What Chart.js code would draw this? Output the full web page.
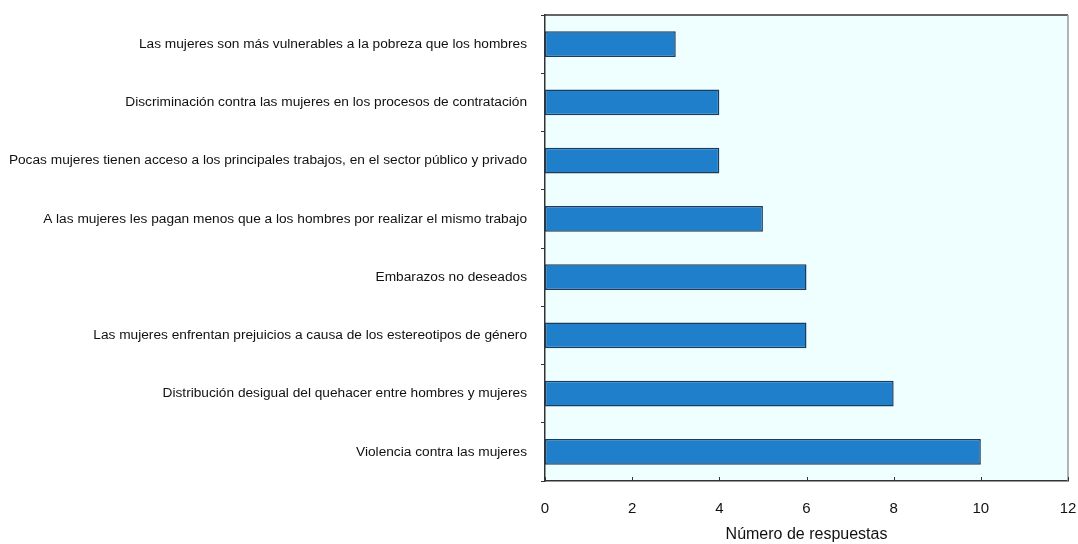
<!DOCTYPE html>
<html>
<head>
<meta charset="utf-8">
<style>
  html, body { margin: 0; padding: 0; background: #ffffff; }
  #wrap { width: 1078px; height: 544px; }
</style>
<script src="https://cdn.jsdelivr.net/npm/chart.js@4/dist/chart.umd.min.js"></script>
</head>
<body>
<div id="wrap"><canvas id="c" width="1078" height="544"></canvas></div>
<script>
const categories = [
  "Las mujeres son más vulnerables a la pobreza que los hombres",
  "Discriminación contra las mujeres en los procesos de contratación",
  "Pocas mujeres tienen acceso a los principales trabajos, en el sector público y privado",
  "A las mujeres les pagan menos que a los hombres por realizar el mismo trabajo",
  "Embarazos no deseados",
  "Las mujeres enfrentan prejuicios a causa de los estereotipos de género",
  "Distribución desigual del quehacer entre hombres y mujeres",
  "Violencia contra las mujeres"
];
const respuestas = [3, 4, 4, 5, 6, 6, 8, 10];
const xTicks = [0, 2, 4, 6, 8, 10, 12];
const xTitle = "Número de respuestas";

// Plot background, top/right frame and inward x-axis tick marks
const framePlugin = {
  id: 'frame',
  beforeDraw(chart) {
    const { ctx, chartArea: a } = chart;
    ctx.save();
    ctx.fillStyle = '#effefe';
    ctx.fillRect(a.left, a.top, a.right - a.left, a.bottom - a.top);
    ctx.restore();
  },
  afterDraw(chart) {
    const { ctx, chartArea: a, scales } = chart;
    ctx.save();
    ctx.lineWidth = 1.5;
    ctx.strokeStyle = '#333333';
    ctx.beginPath();
    ctx.moveTo(a.left, a.top);
    ctx.lineTo(a.right, a.top);
    ctx.stroke();
    ctx.strokeStyle = '#9a9a9a';
    ctx.beginPath();
    ctx.moveTo(a.right, a.top);
    ctx.lineTo(a.right, a.bottom);
    ctx.stroke();
    ctx.strokeStyle = '#333333';
    ctx.lineWidth = 1;
    xTicks.forEach(v => {
      const px = Math.round(scales.x.getPixelForValue(v)) + 0.5;
      ctx.beginPath();
      ctx.moveTo(px, a.bottom);
      ctx.lineTo(px, a.bottom - 4);
      ctx.stroke();
    });
    ctx.restore();
  }
};

new Chart(document.getElementById('c'), {
  type: 'bar',
  data: {
    labels: categories,
    datasets: [{
      data: respuestas,
      backgroundColor: '#1f7fca',
      borderColor: '#1b3c5e',
      borderWidth: 1.5,
      borderSkipped: false,
      barPercentage: 0.88,
      categoryPercentage: 0.5
    }]
  },
  options: {
    indexAxis: 'y',
    responsive: false,
    animation: false,
    devicePixelRatio: 1,
    layout: { padding: { top: 15, right: 10, left: 0, bottom: 0 } },
    plugins: {
      legend: { display: false },
      tooltip: { enabled: false }
    },
    scales: {
      x: {
        min: 0,
        max: 12,
        afterBuildTicks(scale) { scale.ticks = xTicks.map(v => ({ value: v })); },
        afterFit(scale) {
          scale.height = 63;
          scale.paddingLeft = 0;
          scale.paddingRight = 0;
        },
        grid: { display: false, drawTicks: false },
        border: { display: true, color: '#333333', width: 1.5 },
        ticks: {
          padding: 19,
          maxRotation: 0,
          autoSkip: false,
          color: '#111111',
          font: { family: 'Liberation Sans, Arial, sans-serif', size: 15 }
        },
        title: {
          display: true,
          text: xTitle,
          color: '#111111',
          padding: { top: 2, bottom: 0 },
          font: { family: 'Liberation Sans, Arial, sans-serif', size: 16 }
        }
      },
      y: {
        afterFit(scale) {
          scale.width = 545;
          scale.paddingTop = 0;
          scale.paddingBottom = 0;
        },
        grid: {
          offset: true,
          drawOnChartArea: false,
          drawTicks: true,
          tickLength: 4,
          color: '#333333'
        },
        border: { display: true, color: '#333333', width: 1.5 },
        ticks: {
          padding: 14,
          color: '#111111',
          font: { family: 'Liberation Sans, Arial, sans-serif', size: 13.7 }
        }
      }
    }
  },
  plugins: [framePlugin]
});
</script>
</body>
</html>
